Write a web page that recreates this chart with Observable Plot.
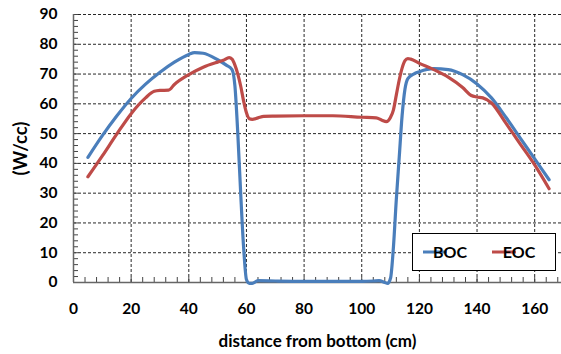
<!DOCTYPE html>
<html><head><meta charset="utf-8">
<script src="https://cdn.jsdelivr.net/npm/d3@7"></script>
<script src="https://cdn.jsdelivr.net/npm/@observablehq/plot@0.6"></script>
<style>body{margin:0;background:#fff} svg{font-family:Lato,sans-serif}</style>
</head><body><div id="chart"></div>
<script>
const series = ["BOC", "EOC"];
const colors = ["#4A7EBB", "#BE4B48"];
const bocX = [5,10,15,20,25,30,35,40,42,45,50,53,55,56,57,58,59,60,61,62,64,70,80,90,100,104,106,108,109,110,111,112,113,114,115,116,118,120,125,130,135,140,145,150,155,160,165];
const bocY = [42,49.3,55.9,61.8,66.6,70.6,74,76.6,77.2,77,74.8,73,71.5,66,50,30,12,1,-0.3,-0.3,0.6,0.5,0.4,0.4,0.4,0.5,0.6,0,-0.3,1.5,12,28,42,56,65,68.5,70,70.8,71.8,71.5,69.8,66.7,62,55.5,48.5,41.5,34.5];
const eocX = [5,10,15,20,25,28,30,33,35,40,45,50,52,54,55,56,57,58,59,60,61,62,64,66,70,80,90,100,105,107,108.5,110,111,112,113,114,115,116,117,120,125,130,135,138,140,142,145,150,155,160,165];
const eocY = [35.5,42.5,49.8,56.7,62,64.2,64.5,64.6,66.5,69.8,72.3,74,74.6,75.5,75,73,70,66,61,57,55,54.8,55.3,55.8,55.9,56,56,55.5,55.3,54.5,54,55.5,58,63,68,72,74.5,75.2,75,73.6,71.5,69,65.5,62.8,62.3,62,60.3,53.5,46.5,39.5,31.5];
const xTicks = [0,20,40,60,80,100,120,140,160];
const yTicks = [0,10,20,30,40,50,60,70,80,90];
const xMinor = d3.range(0, 169, 4);
const yMinor = d3.range(0, 91, 2);

const data = [
  ...bocX.map((x, i) => ({series: "BOC", x, y: bocY[i]})),
  ...eocX.map((x, i) => ({series: "EOC", x, y: eocY[i]}))
];

const chart = Plot.plot({
  width: 561, height: 354,
  marginLeft: 73, marginRight: 0, marginTop: 14, marginBottom: 72,
  x: {domain: [0, 169.3]},
  y: {domain: [0, 90]},
  color: {domain: series, range: colors},
  style: {fontFamily: "Lato, sans-serif", fontSize: "15.5px", fontWeight: "bold", color: "#000", background: "#fff", overflow: "visible"},
  marks: [
    Plot.gridX(xTicks.slice(1), {stroke: "#000", strokeOpacity: 0.85, strokeDasharray: "3,2"}),
    Plot.gridY(yTicks.slice(1), {stroke: "#000", strokeOpacity: 0.85, strokeDasharray: "3,2"}),
    Plot.axisX(xMinor, {tickSize: -5, tickFormat: () => "", label: null, stroke: "#444"}),
    Plot.axisY(yMinor, {tickSize: -5, tickFormat: () => "", label: null, stroke: "#444"}),
    Plot.axisX(xTicks, {tickSize: 0, tickPadding: 20, label: null}),
    Plot.axisY(yTicks, {tickSize: 0, tickPadding: 16, label: null}),
    Plot.axisX({ticks: [], label: "distance from bottom (cm)", labelAnchor: "center", labelArrow: "none", labelOffset: 64, fontSize: 17}),
    Plot.axisY({ticks: [], label: "(W/cc)", labelAnchor: "center", labelArrow: "none", labelOffset: 60, fontSize: 18.5}),
    Plot.ruleY([0], {stroke: "#666", strokeWidth: 1.5}),
    Plot.ruleX([0], {stroke: "#666", strokeWidth: 1.5}),
    Plot.line(data, {x: "x", y: "y", stroke: "series", curve: "monotone-x", strokeWidth: 3.2, strokeLinejoin: "round"})
  ]
});

// legend
const svg = d3.select(chart);
const lg = svg.append("g").attr("font-family", "Lato, sans-serif").attr("font-size", 16).attr("font-weight", "bold");
lg.append("rect").attr("x", 412.5).attr("y", 233.5).attr("width", 143).attr("height", 37).attr("fill", "#fff").attr("stroke", "#000");
const items = [{x: 423}, {x: 492}];
series.forEach((s, i) => {
  const x0 = items[i].x;
  lg.append("line").attr("x1", x0).attr("x2", x0 + 24).attr("y1", 252).attr("y2", 252).attr("stroke", colors[i]).attr("stroke-width", 3);
  lg.append("text").attr("x", x0 + 27).attr("y", 252).attr("dy", "0.36em").attr("fill", "#000").text(s);
});
document.getElementById("chart").appendChild(chart);
</script>
</body></html>
